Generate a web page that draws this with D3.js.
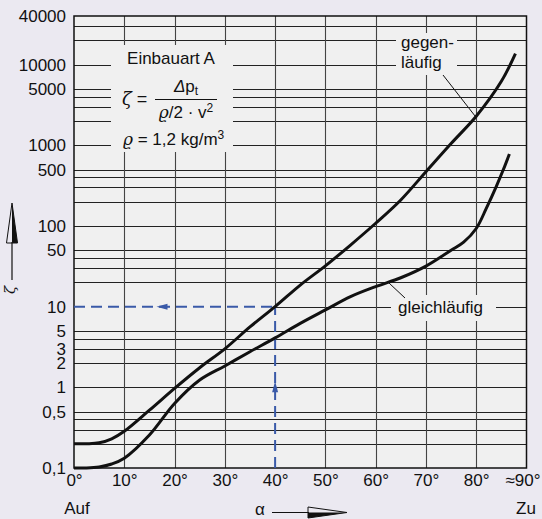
<!DOCTYPE html>
<html>
<head>
<meta charset="utf-8">
<script src="https://cdn.jsdelivr.net/npm/d3@7"></script>
<style>
  html, body { margin: 0; padding: 0; background: #ebe9f1; }
  svg { display: block; font-family: "Liberation Sans", Arial, Helvetica, sans-serif; }
</style>
</head>
<body>
<svg id="chart" width="542" height="519"></svg>
<script>
// Valve opening angle α in degrees
const angleTicks = [0, 10, 20, 30, 40, 50, 60, 70, 80, 90];

// Loss coefficient ζ tick labels and grid values (log axis)
const zetaTicks = [40000, 10000, 5000, 1000, 500, 100, 50, 10, 5, 3, 2, 1, 0.5, 0.1];
const zetaGrid = [0.2, 0.3, 0.4, 0.5, 1, 2, 3, 4, 5, 20, 30, 40, 50,
                  100, 200, 300, 400, 500, 1000, 2000, 3000, 4000, 5000,
                  10000, 20000, 30000];

// Curve "gegenläufig" (opposed blades)
const gegenAngle = [0, 2.5, 5, 7.5, 10, 15, 20, 25, 30, 35, 40, 45, 50, 55, 60, 65, 70, 75, 80, 85, 87.8];
const gegenZeta  = [0.2, 0.2, 0.205, 0.23, 0.285, 0.52, 0.97, 1.75, 3.0, 5.6, 10, 18.5, 32, 58, 108, 210, 470, 1050, 2290, 6200, 13700];

// Curve "gleichläufig" (parallel blades)
const gleichAngle = [0, 2.5, 5, 7.5, 10, 15, 20, 25, 30, 35, 40, 45, 50, 55, 60, 65, 70, 75, 77.5, 80, 82, 84, 85.4, 86.6];
const gleichZeta  = [0.1, 0.1, 0.103, 0.112, 0.132, 0.256, 0.63, 1.23, 1.84, 2.76, 4.1, 6.2, 9.1, 13.3, 17.7, 22.8, 31.8, 50, 63, 93, 165, 310, 500, 780];

// Example reading: α = 40° gives ζ = 10
const readAngle = 40;
const readZeta = 10;

const svg = d3.select("#chart");
const x = d3.scaleLinear().domain([0, 90]).range([74, 526.5]);
const y = d3.scaleLog().domain([0.1, 40000]).range([468, 16]);

const plotBg = "#f0f0f0";
const ink = "#111";
const fs = 17;

// plot background
svg.append("rect")
  .attr("x", x(0)).attr("y", y(40000))
  .attr("width", x(90) - x(0)).attr("height", y(0.1) - y(40000))
  .attr("fill", plotBg);

const grid = svg.append("g");

// horizontal grid lines
grid.selectAll("line.h").data(zetaGrid).join("line")
  .attr("class", "h")
  .attr("x1", x(0)).attr("x2", x(90))
  .attr("y1", d => Math.round(y(d)) + 0.5).attr("y2", d => Math.round(y(d)) + 0.5)
  .attr("stroke", "#222").attr("stroke-width", 1.1);

// ζ = 10 grid line only right of the reading line
grid.append("line")
  .attr("x1", x(readAngle)).attr("x2", x(90))
  .attr("y1", Math.round(y(readZeta)) + 0.5).attr("y2", Math.round(y(readZeta)) + 0.5)
  .attr("stroke", "#222").attr("stroke-width", 1.1);

// vertical grid lines
grid.selectAll("line.v").data(angleTicks.filter(d => d > 0 && d < 90 && d !== readAngle)).join("line")
  .attr("class", "v")
  .attr("x1", d => Math.round(x(d)) + 0.5).attr("x2", d => Math.round(x(d)) + 0.5)
  .attr("y1", y(40000)).attr("y2", y(0.1))
  .attr("stroke", "#444").attr("stroke-width", 1.1);

grid.append("line")
  .attr("x1", Math.round(x(readAngle)) + 0.5).attr("x2", Math.round(x(readAngle)) + 0.5)
  .attr("y1", y(40000)).attr("y2", y(readZeta))
  .attr("stroke", "#444").attr("stroke-width", 1.1);

// frame
svg.append("rect")
  .attr("x", x(0)).attr("y", y(40000))
  .attr("width", x(90) - x(0)).attr("height", y(0.1) - y(40000))
  .attr("fill", "none").attr("stroke", ink).attr("stroke-width", 1.5);

// cleared areas behind the text blocks
const clear = svg.append("g").attr("fill", plotBg);
clear.append("rect").attr("x", 111).attr("y", 45).attr("width", 122).attr("height", 107);
clear.append("rect").attr("x", 396).attr("y", 33).attr("width", 61).attr("height", 42);
clear.append("rect").attr("x", 391).attr("y", 295).attr("width", 105).attr("height", 26);

// reading lines (blue dashed)
const blue = "#3a5aa8";
svg.append("line")
  .attr("x1", x(0)).attr("x2", x(readAngle))
  .attr("y1", y(readZeta)).attr("y2", y(readZeta))
  .attr("stroke", blue).attr("stroke-width", 2).attr("stroke-dasharray", "11,6");
svg.append("line")
  .attr("x1", x(readAngle)).attr("x2", x(readAngle))
  .attr("y1", y(0.1)).attr("y2", y(readZeta))
  .attr("stroke", blue).attr("stroke-width", 2).attr("stroke-dasharray", "11,6");
// arrowheads on the reading lines
const hx = x(0) + (x(readAngle) - x(0)) * 0.44, hy = y(readZeta);
svg.append("path")
  .attr("d", `M${hx - 6},${hy} L${hx + 5},${hy - 3} L${hx + 5},${hy + 3} Z`)
  .attr("fill", blue);
const vx = x(readAngle), vy = y(readZeta) + (y(0.1) - y(readZeta)) * 0.5;
svg.append("path")
  .attr("d", `M${vx},${vy - 6} L${vx - 3},${vy + 5} L${vx + 3},${vy + 5} Z`)
  .attr("fill", blue);

// curves
const line = d3.line().x(d => x(d[0])).y(d => y(d[1])).curve(d3.curveCatmullRom.alpha(0.5));
svg.append("path")
  .datum(d3.zip(gegenAngle, gegenZeta))
  .attr("d", line).attr("fill", "none").attr("stroke", ink).attr("stroke-width", 3);
svg.append("path")
  .datum(d3.zip(gleichAngle, gleichZeta))
  .attr("d", line).attr("fill", "none").attr("stroke", ink).attr("stroke-width", 3);

// axes
const fmt = d => String(d).replace(".", ",");
const yAxis = svg.append("g")
  .attr("transform", `translate(${x(0)},0)`)
  .call(d3.axisLeft(y).tickValues(zetaTicks).tickFormat(fmt).tickSize(0).tickPadding(8));
yAxis.select(".domain").remove();
yAxis.selectAll("text").attr("font-size", fs).attr("fill", ink)
  .attr("font-family", "'Liberation Sans', Arial, sans-serif");

const xAxis = svg.append("g")
  .attr("transform", `translate(0,${y(0.1)})`)
  .call(d3.axisBottom(x).tickValues(angleTicks)
    .tickFormat(d => d === 90 ? "\u224890°" : d + "°").tickSize(0).tickPadding(6));
xAxis.select(".domain").remove();
xAxis.selectAll("text").attr("font-size", fs).attr("fill", ink)
  .attr("font-family", "'Liberation Sans', Arial, sans-serif");
xAxis.selectAll(".tick").filter(d => d === 90).select("text").attr("dx", -4);

// end labels
const txt = (s, tx, ty, anchor, size) => svg.append("text")
  .attr("x", tx).attr("y", ty).attr("text-anchor", anchor || "start")
  .attr("font-size", size || fs).attr("fill", ink).text(s);
txt("Auf", 77, 514, "middle");
txt("Zu", 526, 514, "middle");

// α axis title with half-filled arrow
txt("\u03b1", 260, 515, "middle", 17);
svg.append("line").attr("x1", 272).attr("x2", 309).attr("y1", 512.5).attr("y2", 512.5)
  .attr("stroke", ink).attr("stroke-width", 1.2);
svg.append("path").attr("d", "M308,507 L347,512.5 L308,518 Z")
  .attr("fill", "none").attr("stroke", ink).attr("stroke-width", 1);
svg.append("path").attr("d", "M308,512.5 L347,512.5 L308,518 Z").attr("fill", ink);

// ζ axis title with half-filled arrow
svg.append("line").attr("x1", 12).attr("x2", 12).attr("y1", 242).attr("y2", 280)
  .attr("stroke", ink).attr("stroke-width", 1.2);
svg.append("path").attr("d", "M12,203 L6.5,243 L17.5,243 Z")
  .attr("fill", "none").attr("stroke", ink).attr("stroke-width", 1);
svg.append("path").attr("d", "M12,203 L17.5,243 L12,243 Z").attr("fill", ink);
svg.append("text").attr("transform", "translate(15,290) rotate(-90)")
  .attr("text-anchor", "middle").attr("font-size", 15).attr("font-style", "italic")
  .attr("font-family", "'DejaVu Serif', serif").attr("fill", ink).text("\u03b6");

// formula block
txt("Einbauart A", 171, 64, "middle");
svg.append("text").attr("x", 122).attr("y", 105).attr("font-size", 18).attr("fill", ink)
  .call(t => {
    t.append("tspan").attr("font-family", "'DejaVu Serif', serif").attr("font-style", "italic").text("\u03b6");
    t.append("tspan").text(" =");
  });
svg.append("line").attr("x1", 155).attr("x2", 217).attr("y1", 99.5).attr("y2", 99.5)
  .attr("stroke", ink).attr("stroke-width", 1.2);
svg.append("text").attr("x", 186).attr("y", 92).attr("text-anchor", "middle")
  .attr("font-size", fs).attr("fill", ink)
  .call(t => {
    t.append("tspan").attr("font-style", "italic").text("\u0394");
    t.append("tspan").text("p");
    t.append("tspan").attr("font-size", 12).attr("dy", 3).text("t");
  });
svg.append("text").attr("x", 186).attr("y", 118).attr("text-anchor", "middle")
  .attr("font-size", fs).attr("fill", ink)
  .call(t => {
    t.append("tspan").attr("font-family", "'DejaVu Serif', serif").attr("font-style", "italic").text("\u03f1");
    t.append("tspan").text("/2 \u00b7 v");
    t.append("tspan").attr("font-size", 12).attr("dy", -6).text("2");
  });
svg.append("text").attr("x", 123).attr("y", 145)
  .attr("font-size", fs).attr("fill", ink)
  .call(t => {
    t.append("tspan").attr("font-family", "'DejaVu Serif', serif").attr("font-style", "italic").text("\u03f1");
    t.append("tspan").text(" = 1,2 kg/m");
    t.append("tspan").attr("font-size", 12).attr("dy", -6).text("3");
  });

// curve labels with leader lines
txt("gegen-", 401, 48);
txt("läufig", 401, 68);
svg.append("line").attr("x1", 443).attr("y1", 75).attr("x2", x(80) - 1).attr("y2", y(2290))
  .attr("stroke", ink).attr("stroke-width", 1);
txt("gleichläufig", 398, 313);
svg.append("line").attr("x1", 389).attr("y1", 283).attr("x2", 405).attr("y2", 298)
  .attr("stroke", ink).attr("stroke-width", 1);
</script>
</body>
</html>
